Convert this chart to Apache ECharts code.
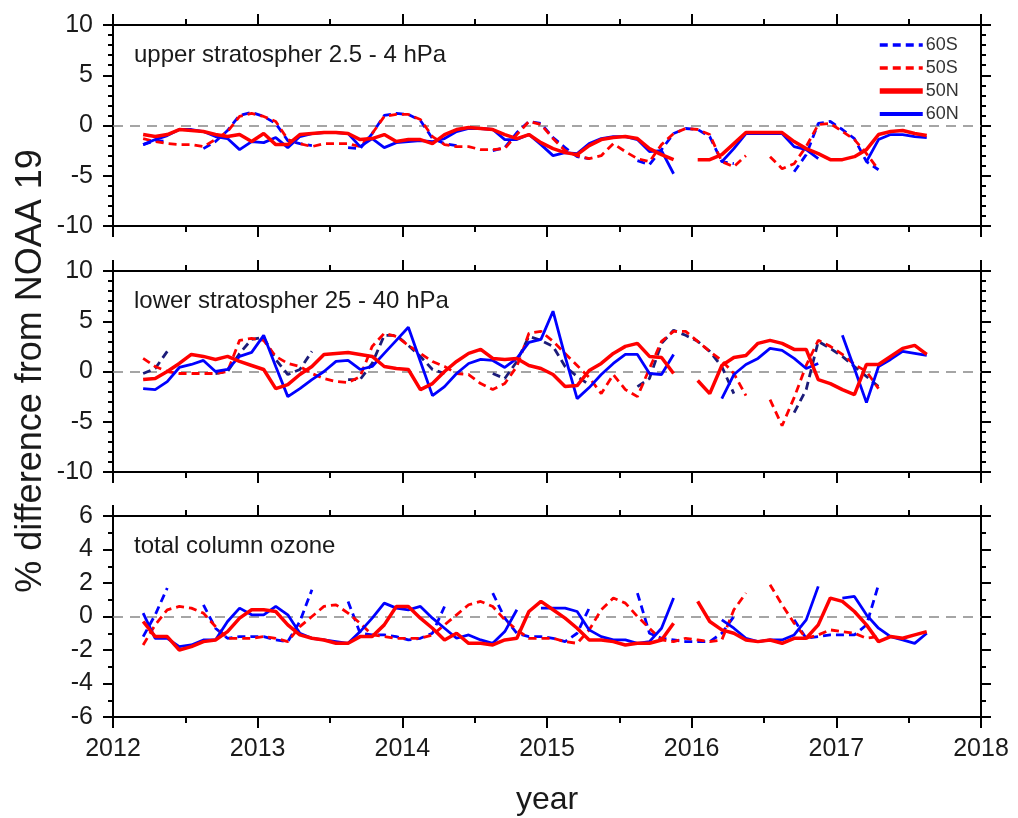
<!DOCTYPE html>
<html><head><meta charset="utf-8">
<script src="https://cdn.jsdelivr.net/npm/echarts/dist/echarts.min.js"></script>
<style>html,body{margin:0;padding:0;background:#fff}#c{width:1018px;height:818px}</style>
</head><body><div id="c"></div><script>
// monthly series starting March 2012
const startYear = 2012, startMonth = 3, nMonths = 66;

// upper stratosphere 2.5 - 4 hPa
const up60S = [-1.9,-1.5,-1.6,null,null,-2.3,-1.6,-0.5,1.0,1.3, 0.9,0.2,-1.5,-1.8,-2.0,null,null,-2.2,-2.3,-0.8, 1.0,1.2,1.1,0.5,-1.3,-1.8,-2.0,null,null,-2.5, -2.2,-0.7,0.4,0.2,-1.2,-2.2,-3.1,-3.3,null,null, null,-3.5,-3.9,-2.4,-0.8,-0.3,-0.4,-1.1,-3.6,-3.8, null,null,null,null,-4.6,-2.9,0.2,0.4,-0.4,-1.3, -3.6,-4.4,null,null,null,null];
const up50S = [-1.3,-1.6,-1.8,-1.9,-1.9,-2.1,-1.4,-0.6,0.9,1.2, 0.9,0.4,-1.4,-1.8,-2.1,-1.8,-1.8,-1.8,-2.1,-0.8, 0.9,1.1,1.1,0.6,-1.1,-1.9,-2.1,-2.1,-2.4,-2.4, -2.3,-0.9,0.4,0.1,-1.3,-2.5,-3.0,-3.3,-3.0,-1.8, -2.6,-3.3,-3.6,-1.9,-0.8,-0.3,-0.4,-0.9,-3.6,-4.1, -3.0,null,-3.1,-4.3,-3.8,-2.1,0.1,0.2,-0.6,-1.4, -2.8,-4.4,null,null,null,null];
const up50N = [-0.9,-1.1,-0.9,-0.4,-0.5,-0.6,-0.9,-1.1,-0.9,-1.6, -0.8,-1.9,-1.9,-0.9,-0.8,-0.7,-0.7,-0.8,-1.4,-1.3, -0.9,-1.6,-1.4,-1.4,-1.8,-0.9,-0.4,-0.2,-0.3,-0.4, -0.9,-1.3,-0.9,-1.7,-2.3,-2.7,-2.9,-2.0,-1.4,-1.2, -1.1,-1.3,-2.3,-2.9,-3.4,null,-3.4,-3.4,-2.9,-1.8, -0.7,-0.7,-0.7,-0.7,-1.6,-2.3,-2.8,-3.4,-3.4,-3.1, -2.4,-0.9,-0.6,-0.5,-0.8,-1.0];
const up60N = [-1.9,-1.4,-1.0,-0.4,-0.4,-0.6,-1.1,-1.3,-2.4,-1.6, -1.7,-1.2,-2.2,-1.1,-0.8,-0.7,-0.7,-0.8,-2.1,-1.3, -2.2,-1.7,-1.6,-1.5,-1.6,-1.3,-0.6,-0.3,-0.3,-0.4, -1.4,-1.4,-0.9,-1.9,-3.0,-2.7,-2.8,-1.8,-1.3,-1.1, -1.1,-1.4,-2.6,-2.5,-4.8,null,null,null,-3.6,-2.3, -0.8,-0.8,-0.8,-0.8,-2.1,-2.4,-3.3,null,null,null, -3.6,-1.4,-0.9,-0.9,-1.1,-1.2];

// lower stratosphere 25 - 40 hPa
const lo60S = [-0.2,0.3,2.0,null,null,null,-0.2,0.0,1.8,3.2, 3.4,1.2,-0.3,0.2,2.0,null,null,-0.8,-0.8,0.8, 3.6,3.6,2.6,1.5,0.2,-0.2,null,null,null,-0.2, -0.7,1.0,3.5,3.1,2.5,0.5,-0.5,-1.3,null,null, null,-1.5,-0.7,2.8,4.1,3.6,3.0,2.0,0.5,-2.2, null,null,null,null,-4.1,-1.8,3.0,2.3,1.5,0.5, -0.5,-1.5,null,null,null,null];
const lo50S = [1.3,0.5,0.0,-0.2,-0.2,-0.2,-0.2,0.0,3.1,3.3, 3.1,1.5,0.8,0.5,-0.2,-0.7,-1.0,-1.1,-0.5,2.5, 3.8,3.5,2.6,1.8,1.0,0.5,-0.2,-0.3,-1.2,-1.8, -1.2,0.5,3.8,4.0,3.0,1.8,0.6,-0.6,-2.2,-0.3, -1.8,-2.5,0.3,3.0,4.0,4.0,3.0,2.0,1.1,-0.2, -2.4,null,-2.8,-5.4,-2.6,0.6,3.1,2.5,1.7,0.7, 0.0,-1.7,null,null,null,null];
const lo50N = [-0.8,-0.7,0.0,0.8,1.7,1.5,1.2,1.5,1.0,0.6, 0.2,-1.7,-1.3,-0.3,0.5,1.7,1.8,1.9,1.7,1.5, 0.5,0.3,0.2,-1.8,-1.2,0.0,1.0,1.8,2.2,1.3, 1.2,1.3,0.6,0.3,-0.3,-1.5,-1.4,0.1,0.8,1.8, 2.5,2.8,1.5,1.4,-0.2,null,-0.9,-2.2,0.6,1.4, 1.6,2.8,3.1,2.8,2.2,2.2,-0.8,-1.2,-1.8,-2.3, 0.7,0.7,1.5,2.3,2.6,1.7];
const lo60N = [-1.7,-1.8,-1.0,0.4,0.7,1.1,0.0,0.2,1.5,1.9, 3.6,0.5,-2.5,-1.7,-0.8,0.0,1.0,1.1,0.2,0.5, 1.8,3.1,4.4,1.0,-2.4,-1.5,-0.2,0.8,1.2,1.1, 0.4,1.3,2.9,3.2,6.0,1.5,-2.7,-1.6,-0.3,0.8, 1.7,1.7,-0.2,-0.3,1.7,null,null,null,-2.7,-0.3, 0.7,1.3,2.3,2.1,1.3,0.3,0.8,null,3.6,0.3, -3.1,0.5,1.2,2.0,1.8,1.6];

// total column ozone
const tc60S = [-1.2,0.1,1.7,null,null,0.7,-0.7,-1.3,-1.2,-1.2, -1.2,-1.4,-1.5,-0.3,1.6,null,null,0.9,-1.0,-1.1, -1.1,-1.2,-1.4,-1.3,-1.0,0.6,null,null,null,1.4, -0.1,-1.0,-1.2,-1.2,-1.3,-1.5,-1.0,0.5,null,null, null,1.4,-1.0,-1.3,-1.4,-1.5,-1.5,-1.5,-1.0,0.0, null,null,null,null,-0.2,-1.3,-1.2,-1.1,-1.1,-1.1, -0.5,1.9,null,null,null,null];
const tc50S = [-1.7,-0.5,0.4,0.6,0.5,0.2,-0.6,-1.3,-1.3,-1.3, -1.2,-1.3,-1.5,-0.6,0.0,0.6,0.7,0.2,-0.4,-1.1, -1.2,-1.3,-1.3,-1.3,-1.1,-0.5,0.1,0.7,0.9,0.6, -0.2,-0.8,-1.3,-1.3,-1.3,-1.5,-1.6,-0.8,0.4,1.1, 0.8,0.0,-0.7,-1.4,-1.5,-1.3,-1.4,-1.5,-1.4,0.4, 1.4,null,1.9,0.7,-0.4,-1.3,-1.1,-0.8,-0.9,-1.0, -1.3,-1.2,null,null,null,null];
const tc50N = [-0.3,-1.2,-1.2,-2.0,-1.8,-1.5,-1.4,-0.9,-0.1,0.4, 0.4,0.3,-0.5,-1.1,-1.3,-1.4,-1.6,-1.6,-1.2,-1.2, -0.5,0.6,0.6,-0.1,-0.7,-1.4,-1.0,-1.6,-1.6,-1.7, -1.4,-1.3,0.3,0.9,0.4,-0.1,-0.7,-1.4,-1.4,-1.5, -1.7,-1.6,-1.6,-1.4,-0.4,null,0.9,-0.3,-0.8,-1.0, -1.4,-1.5,-1.4,-1.6,-1.3,-1.3,-0.5,1.1,0.9,0.3, -0.5,-1.5,-1.2,-1.3,-1.1,-0.9];
const tc60N = [0.2,-1.3,-1.3,-1.8,-1.7,-1.4,-1.4,-0.3,0.5,0.1, 0.1,0.6,0.1,-1.0,-1.3,-1.4,-1.5,-1.6,-0.9,-0.1, 0.8,0.5,0.4,0.6,-0.1,-0.7,-1.3,-1.1,-1.4,-1.6, -0.9,0.4,null,0.5,0.5,0.5,0.3,-0.8,-1.2,-1.4, -1.4,-1.6,-1.5,-0.7,1.1,null,null,null,-0.2,-0.7, -1.3,-1.5,-1.4,-1.4,-1.1,-0.2,1.8,null,1.1,1.2, 0.1,-0.7,-1.2,-1.4,-1.6,-1.0];

const panelTitles = ['upper stratospher 2.5 - 4 hPa', 'lower stratospher 25 - 40 hPa', 'total column ozone'];
const seriesNames = ['60S', '50S', '50N', '60N'];
const yRanges = [[-10, 10, 5, 5], [-10, 10, 5, 5], [-6, 6, 2, 2]];
const xTicks = [2012, 2018, 1];

// decimal-year position of each monthly sample (mid-month)
const months = [];
for (let i = 0; i < nMonths; i++) {
  const m = startMonth - 1 + i;
  const y = startYear + Math.floor(m / 12);
  months.push(y + ((m % 12) + 0.5) / 12);
}
const pair = arr => months.map((x, i) => [x, arr[i] == null ? '-' : arr[i]]);

const FONT = '"Liberation Sans", Arial, sans-serif';
const TXT = '#1a1a1a';
const grids = [], xAxes = [], yAxes = [], series = [], graphics = [];
const tops = [25, 271, 516], H = 201;
const panels = [
  [up60S, up50S, up50N, up60N],
  [lo60S, lo50S, lo50N, lo60N],
  [tc60S, tc50S, tc50N, tc60N]
];
const axLine = {show: true, onZero: false, lineStyle: {color: '#000', width: 2}};
for (let k = 0; k < 3; k++) {
  grids.push({left: 113, right: 37, top: tops[k], height: H});
  ['bottom', 'top'].forEach(pos => {
    xAxes.push({
      type: 'value', gridIndex: k, position: pos, min: xTicks[0], max: xTicks[1], interval: xTicks[2],
      axisLine: axLine,
      axisTick: {show: true, inside: false, length: 11, lineStyle: {color: '#000', width: 2}},
      minorTick: {show: true, splitNumber: 2, length: 6, lineStyle: {color: '#000', width: 2}},
      splitLine: {show: false}, minorSplitLine: {show: false},
      axisLabel: {show: k === 2 && pos === 'bottom', fontSize: 25, color: TXT, fontFamily: FONT, margin: 20,
        formatter: v => String(v)}
    });
  });
  const yr = yRanges[k];
  ['left', 'right'].forEach(pos => {
    yAxes.push({
      type: 'value', gridIndex: k, position: pos, min: yr[0], max: yr[1], interval: yr[2],
      axisLine: axLine,
      axisTick: {show: true, inside: false, length: 10, lineStyle: {color: '#000', width: 2}},
      minorTick: {show: true, splitNumber: yr[3], length: 5, lineStyle: {color: '#000', width: 2}},
      splitLine: {show: false}, minorSplitLine: {show: false},
      axisLabel: {show: pos === 'left', fontSize: 25, color: TXT, fontFamily: FONT, margin: 20}
    });
  });
  const d = panels[k];
  const c60S = k === 1 ? '#1c1c7a' : '#0000ff';
  const styles = [
    {color: c60S, type: [8, 5], width: 2.8},
    {color: '#ff0000', type: [8, 5], width: 2.8},
    {color: '#ff0000', type: 'solid', width: 3.5},
    {color: '#0000ff', type: 'solid', width: 2.8}
  ];
  const order = [0, 1, 3, 2];
  order.forEach((s, j) => {
    const ser = {
      name: seriesNames[s], type: 'line', xAxisIndex: 2 * k, yAxisIndex: 2 * k,
      data: pair(d[s]), showSymbol: false, symbol: 'none', connectNulls: false,
      lineStyle: styles[s], itemStyle: {color: styles[s].color}, z: 3 + j
    };
    if (j === 0) {
      ser.markLine = {silent: true, symbol: ['none', 'none'], label: {show: false},
        lineStyle: {color: '#888888', type: [10, 7], width: 1.5}, data: [{yAxis: 0}], z: 1};
    }
    series.push(ser);
  });
  graphics.push({type: 'text', x: 134, y: tops[k] + 30, style: {text: panelTitles[k], fontSize: 24, fontFamily: FONT, fill: TXT, textVerticalAlign: 'middle', verticalAlign: 'middle'}});
}
graphics.push({type: 'text', x: 31, y: 371, rotation: Math.PI / 2,
  style: {text: '% difference from NOAA 19', fontSize: 36, fontFamily: FONT, fill: TXT, textAlign: 'center', align: 'center', textVerticalAlign: 'middle', verticalAlign: 'middle'}});
graphics.push({type: 'text', x: 547, y: 800,
  style: {text: 'year', fontSize: 32, fontFamily: FONT, fill: TXT, textAlign: 'center', align: 'center', textVerticalAlign: 'middle', verticalAlign: 'middle'}});

const legendItems = [
  {name: '60S', lineStyle: {width: 3.5, type: [8, 5]}},
  {name: '50S', lineStyle: {width: 3.5, type: [8, 5]}},
  {name: '50N', lineStyle: {width: 5.5}},
  {name: '60N', lineStyle: {width: 4}}
];

const chart = echarts.init(document.getElementById('c'), null, {renderer: 'canvas'});
chart.setOption({
  animation: false,
  backgroundColor: '#fff',
  grid: grids, xAxis: xAxes, yAxis: yAxes, series: series,
  legend: {data: legendItems, orient: 'vertical', left: 877, top: 36, padding: 0,
    itemWidth: 43, itemHeight: 12, itemGap: 5, itemStyle: {opacity: 0},
    textStyle: {fontSize: 18, color: '#333', fontFamily: FONT, padding: [0, 0, 0, -2]}},
  graphic: graphics
});
</script></body></html>
